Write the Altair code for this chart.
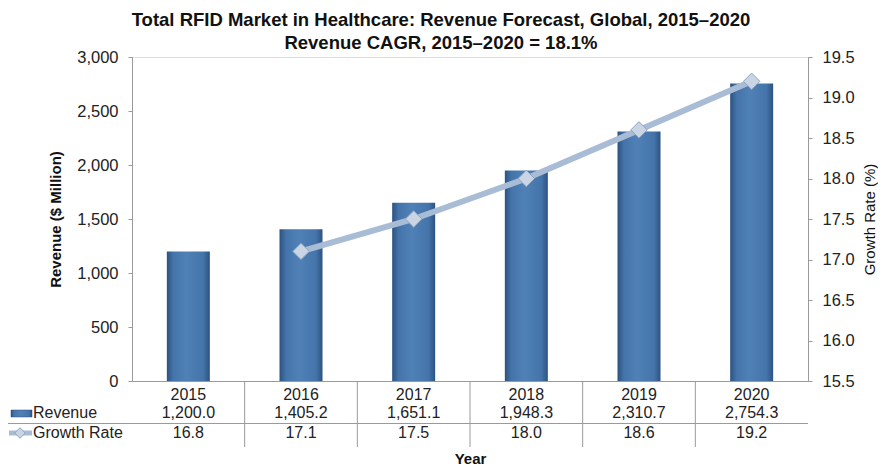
import altair as alt
import pandas as pd

years = ["2015", "2016", "2017", "2018", "2019", "2020"]
revenue = [1200.0, 1405.2, 1651.1, 1948.3, 2310.7, 2754.3]
growth = [16.8, 17.1, 17.5, 18.0, 18.6, 19.2]
line_years = ["2016", "2017", "2018", "2019", "2020"]
row_labels = ["Revenue", "Growth Rate"]
title_lines = ["Total RFID Market in Healthcare: Revenue Forecast, Global, 2015\u20132020",
               "Revenue CAGR, 2015\u20132020 = 18.1%"]

df = pd.DataFrame({"year": years, "revenue": revenue, "growth": growth})
line_df = df[df["year"].isin(line_years)]
sep_df = pd.DataFrame({"year": years[1:]})
lab_df = pd.DataFrame({"label": row_labels})

FONT = "Liberation Sans"
W, H = 676, 324
GRAY = "#9a9a9a"
LINE_C = "#a9bcd5"

xscale = alt.Scale(domain=years, paddingInner=0, paddingOuter=0)
xaxis = alt.Axis(title="Year", labelAngle=0, ticks=False, domainColor=GRAY,
                 labelFontSize=16, labelFont=FONT, labelColor="#222",
                 labelPadding=5, titleFont=FONT, titleFontSize=15,
                 titleFontWeight="bold", titleColor="#111",
                 titleX=338, titleY=77, titleBaseline="middle", titleAlign="center")


def xenc(**kw):
    return alt.X("year:O", scale=xscale, axis=xaxis, **kw)


bar_grad = alt.Gradient(
    gradient="linear",
    stops=[alt.GradientStop(color="#2c5280", offset=0),
           alt.GradientStop(color="#4474aa", offset=0.15),
           alt.GradientStop(color="#4f80b6", offset=0.45),
           alt.GradientStop(color="#4474aa", offset=0.85),
           alt.GradientStop(color="#2c5280", offset=1)],
    x1=0, x2=1, y1=0, y2=0)

bars = alt.Chart(df).mark_bar(size=43, color=bar_grad).encode(
    x=xenc(),
    y=alt.Y("revenue:Q", scale=alt.Scale(domain=[0, 3000]),
            axis=alt.Axis(orient="left", values=[0, 500, 1000, 1500, 2000, 2500, 3000],
                          format=",.0f", grid=False, domainColor=GRAY, tickColor=GRAY,
                          tickSize=4, labelFontSize=16.5, labelFont=FONT, labelColor="#222",
                          labelPadding=10, title="Revenue ($ Million)", titleFont=FONT,
                          titleFontSize=15, titleFontWeight="bold", titleColor="#111",
                          titleX=-77, titleY=162, titleAngle=270,
                          titleBaseline="middle", titleAlign="center")),
)

gscale = alt.Scale(domain=[15.5, 19.5])
gaxis = alt.Axis(orient="right", values=[15.5, 16.0, 16.5, 17.0, 17.5, 18.0, 18.5, 19.0, 19.5],
                 format=".1f", grid=False, domainColor=GRAY, tickColor=GRAY, tickSize=4,
                 labelFontSize=16.5, labelFont=FONT, labelColor="#222", labelPadding=10,
                 title="Growth Rate (%)", titleFont=FONT, titleFontSize=15,
                 titleFontWeight="normal", titleColor="#111", titleAngle=270,
                 titleX=61, titleY=162, titleBaseline="middle", titleAlign="center")

line = alt.Chart(line_df).mark_line(color=LINE_C, strokeWidth=6).encode(
    x=xenc(),
    y=alt.Y("growth:Q", scale=gscale, axis=gaxis),
)
points = alt.Chart(line_df).mark_point(shape="diamond", size=270, filled=True,
                                       fill="#c9d5e5", stroke="#8ea4bf",
                                       strokeWidth=1, opacity=1).encode(
    x=xenc(),
    y=alt.Y("growth:Q", scale=gscale, axis=gaxis),
)
growth_layer = alt.layer(line, points)

txt_style = dict(font=FONT, fontSize=16, color="#222", baseline="middle")
rev_text = alt.Chart(df).mark_text(**txt_style).encode(
    x=xenc(),
    y=alt.value(356),
    text=alt.Text("revenue:Q", format=",.1f"),
)
gr_text = alt.Chart(df).mark_text(**txt_style).encode(
    x=xenc(),
    y=alt.value(376),
    text=alt.Text("growth:Q", format=".1f"),
)

seps = alt.Chart(sep_df).mark_rule(color=GRAY, strokeWidth=1).encode(
    x=xenc(bandPosition=0),
    y=alt.value(324), y2=alt.value(390),
)
hline = alt.Chart(lab_df.head(1)).mark_rule(color=GRAY, strokeWidth=1).encode(
    x=alt.value(-124), x2=alt.value(676), y=alt.value(366.5),
)

rev_label = alt.Chart(lab_df.head(1)).mark_text(align="left", **txt_style).encode(
    x=alt.value(-99), y=alt.value(356), text="label:N")
gr_label = alt.Chart(lab_df.tail(1)).mark_text(align="left", **txt_style).encode(
    x=alt.value(-99), y=alt.value(376), text="label:N")

sym_bar = alt.Chart(lab_df.head(1)).mark_rect(color=bar_grad, stroke="#2c5280",
                                              strokeWidth=0.5).encode(
    x=alt.value(-121), x2=alt.value(-100), y=alt.value(353), y2=alt.value(360))
sym_line = alt.Chart(lab_df.head(1)).mark_rule(color=LINE_C, strokeWidth=5).encode(
    x=alt.value(-123), x2=alt.value(-100), y=alt.value(376))
sym_pt = alt.Chart(lab_df.head(1)).mark_point(shape="diamond", size=110, filled=True,
                                              fill="#c9d5e5", stroke="#8ea4bf",
                                              strokeWidth=1, opacity=1).encode(
    x=alt.value(-112), y=alt.value(376))

chart = alt.layer(
    bars, growth_layer, rev_text, gr_text, seps, hline,
    rev_label, gr_label, sym_bar, sym_line, sym_pt,
).resolve_scale(y="independent").properties(
    width=W, height=H,
    autosize=alt.AutoSizeParams(type="none"),
    padding={"left": 124, "top": 49, "right": 70, "bottom": 84},
    title=alt.TitleParams(text=title_lines, font=FONT, fontSize=18.5, fontWeight="bold",
                          color="#111", anchor="middle", dx=-29, lineHeight=23, offset=-3),
).configure_view(stroke=None).configure(background="white")

chart.save("out.html", embed_options={"renderer": "svg", "actions": False})
